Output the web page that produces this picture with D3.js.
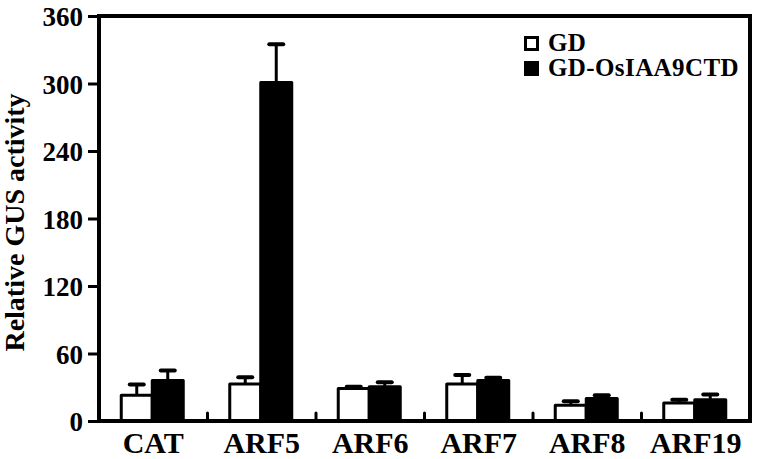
<!DOCTYPE html>
<html>
<head>
<meta charset="utf-8">
<script src="https://cdn.jsdelivr.net/npm/d3@7"></script>
<style>
  body { margin: 0; background: #fff; }
  text { font-family: "Liberation Serif", "Times New Roman", serif; font-weight: bold; }
</style>
</head>
<body>
<svg id="chart" width="758" height="459"></svg>
<script>
// data
const categories = ['CAT', 'ARF5', 'ARF6', 'ARF7', 'ARF8', 'ARF19'];
const seriesNames = ['GD', 'GD-OsIAA9CTD'];
const gdValues = [23, 33, 29, 33, 14, 16];
const gdErrors = [9.5, 6, 1.5, 8, 3.5, 3];
const iaaValues = [36, 301, 30.5, 36, 20, 19];
const iaaErrors = [9, 34, 4, 2.5, 3, 4.5];
const yTicks = [0, 60, 120, 180, 240, 300, 360];

const svg = d3.select('#chart');
const margin = {left: 99, right: 8, top: 16, bottom: 38};
const W = 758, H = 459;

const x = d3.scaleBand()
    .domain(categories)
    .range([margin.left, W - margin.right]);

const sub = d3.scaleBand()
    .domain(seriesNames)
    .range([0, x.bandwidth()])
    .paddingOuter(0.75)
    .paddingInner(0);

const y = d3.scaleLinear()
    .domain([0, 360])
    .range([H - margin.bottom, margin.top]);

const rows = categories.map((c, i) => ({
  cat: c,
  vals: [
    {s: seriesNames[0], v: gdValues[i], e: gdErrors[i]},
    {s: seriesNames[1], v: iaaValues[i], e: iaaErrors[i]}
  ]
}));

const fills = {'GD': '#fff', 'GD-OsIAA9CTD': '#000'};

const groups = svg.selectAll('g.grp')
    .data(rows)
    .join('g')
    .attr('class', 'grp')
    .attr('transform', d => `translate(${x(d.cat) - 1},0)`);

const items = groups.selectAll('g.item')
    .data(d => d.vals)
    .join('g')
    .attr('class', 'item');

// error bars (upper half only), drawn under the bars
items.append('line')
    .attr('x1', d => sub(d.s) + sub.bandwidth() / 2)
    .attr('x2', d => sub(d.s) + sub.bandwidth() / 2)
    .attr('y1', d => y(d.v))
    .attr('y2', d => y(d.v + d.e))
    .attr('stroke', '#000')
    .attr('stroke-width', 3);

items.append('line')
    .attr('x1', d => sub(d.s) + sub.bandwidth() / 2 - 7)
    .attr('x2', d => sub(d.s) + sub.bandwidth() / 2 + 7)
    .attr('y1', d => y(d.v + d.e))
    .attr('y2', d => y(d.v + d.e))
    .attr('stroke', '#000')
    .attr('stroke-width', 4)
    .attr('stroke-linecap', 'round');

items.append('rect')
    .attr('x', d => sub(d.s))
    .attr('width', sub.bandwidth())
    .attr('y', d => y(d.v))
    .attr('height', d => y(0) - y(d.v))
    .attr('fill', d => fills[d.s])
    .attr('stroke', '#000')
    .attr('stroke-width', 3)
    .attr('stroke-linejoin', 'round');

// frame
svg.append('rect')
    .attr('x', margin.left)
    .attr('y', margin.top)
    .attr('width', W - margin.right - margin.left)
    .attr('height', y(0) - margin.top)
    .attr('fill', 'none')
    .attr('stroke', '#000')
    .attr('stroke-width', 4);

// y axis
const yAxis = svg.append('g')
    .attr('transform', `translate(${margin.left},0)`)
    .call(d3.axisLeft(y).tickValues(yTicks).tickSize(11).tickPadding(5));
yAxis.select('.domain').remove();
yAxis.selectAll('.tick line').attr('stroke-width', 3);
yAxis.selectAll('.tick text')
    .attr('font-size', 27)
    .attr('fill', '#000')
    .attr('dy', '0.36em')
    .style('font-family', '"Liberation Serif", serif')
    .style('font-weight', 'bold');

// x axis: small upward ticks between groups
svg.append('g').selectAll('line')
    .data(categories.slice(1))
    .join('line')
    .attr('x1', d => x(d))
    .attr('x2', d => x(d))
    .attr('y1', y(0))
    .attr('y2', y(0) - 8)
    .attr('stroke', '#000')
    .attr('stroke-width', 3)
    .attr('stroke-linecap', 'round');

svg.append('g').selectAll('text')
    .data(categories)
    .join('text')
    .attr('x', d => x(d) + x.bandwidth() / 2)
    .attr('y', 453)
    .attr('text-anchor', 'middle')
    .attr('font-size', 30)
    .text(d => d);

// y title
svg.append('text')
    .attr('transform', `translate(24,${(margin.top + y(0)) / 2 + 4}) rotate(-90)`)
    .attr('text-anchor', 'middle')
    .attr('font-size', 28)
    .text('Relative GUS activity');

// legend
const legend = svg.append('g').attr('transform', 'translate(524,36)');
const li = legend.selectAll('g')
    .data(seriesNames)
    .join('g')
    .attr('transform', (d, i) => `translate(0,${i * 25})`);
li.append('rect')
    .attr('x', 1.5).attr('y', 1.5)
    .attr('width', 12).attr('height', 12)
    .attr('fill', d => fills[d])
    .attr('stroke', '#000')
    .attr('stroke-width', 3);
li.append('text')
    .attr('x', 24)
    .attr('y', 15)
    .attr('font-size', 25)
    .attr('letter-spacing', 0.4)
    .text(d => d);
</script>
</body>
</html>
